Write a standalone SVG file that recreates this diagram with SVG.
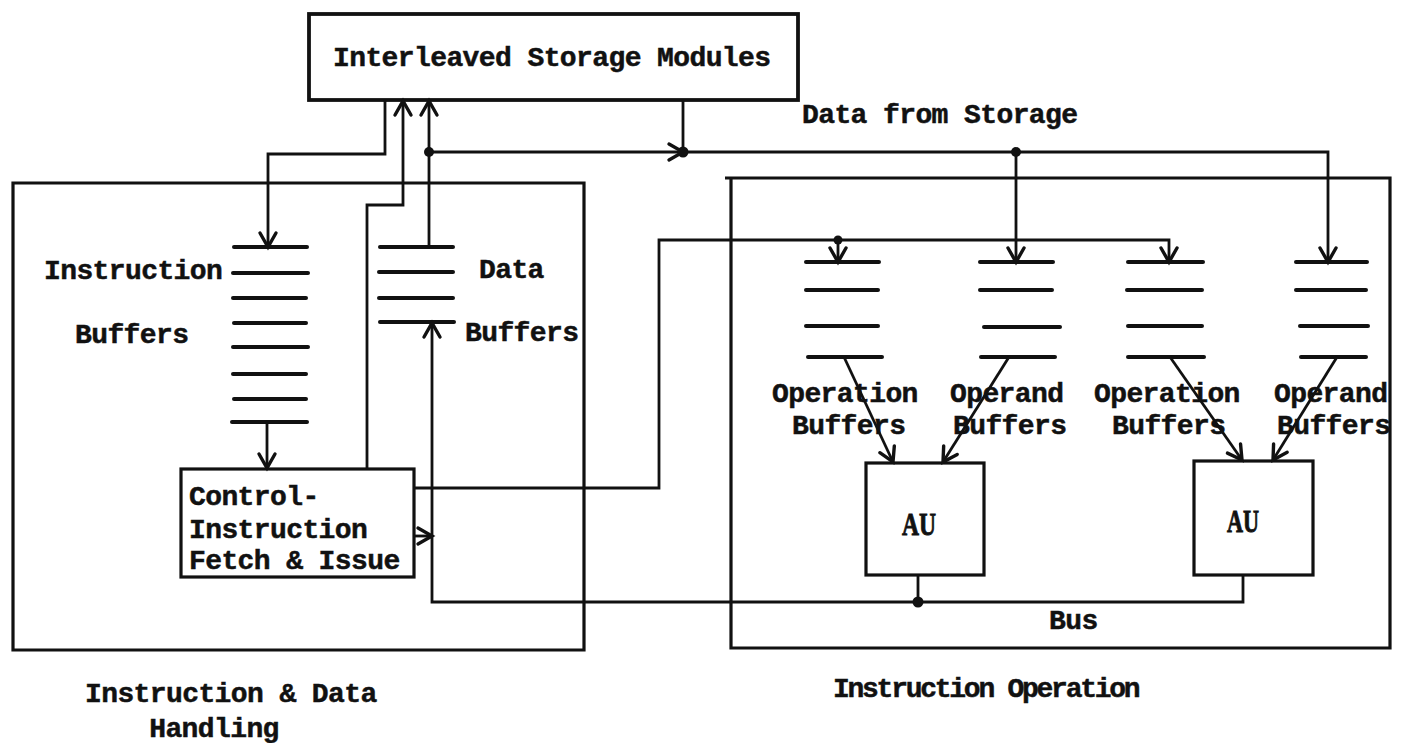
<svg xmlns="http://www.w3.org/2000/svg" width="1403" height="743" viewBox="0 0 1403 743">
  <defs>
    <style>
      .bg { fill: #ffffff; }
      .box { fill: none; stroke: #111; stroke-width: 3.2; stroke-linejoin: miter; }
      .heavy { stroke-width: 3.8; }
      .wire { fill: none; stroke: #111; stroke-width: 2.8; stroke-linejoin: miter; }
      .slot { stroke: #111; stroke-width: 4; stroke-linecap: round; }
      .dot { fill: #111; }
      .lbl { font-family: "Liberation Mono", "Courier New", monospace; font-weight: bold; font-size: 28px; letter-spacing: -0.6px; fill: #111; stroke: #111; stroke-width: 0.5px; }
      .au { font-family: "Liberation Serif", "Times New Roman", serif; font-weight: bold; font-size: 31px; fill: #111; stroke: #111; stroke-width: 0.9px; text-anchor: middle; }
    </style>
    <marker id="arr" viewBox="-16 -10 18 20" refX="0" refY="0" markerWidth="18" markerHeight="20" markerUnits="userSpaceOnUse" orient="auto" overflow="visible">
      <path d="M-14,-8 L0,0 L-14,8" fill="none" stroke="#111" stroke-width="3.4" stroke-linecap="round" stroke-linejoin="miter"/>
    </marker>
  </defs>

  <rect class="bg" x="0" y="0" width="1403" height="743"/>

  <!-- memory -->
  <g id="storage">
    <rect class="box heavy" x="309" y="14" width="489" height="86"/>
    <text class="lbl" x="333" y="66">Interleaved Storage Modules</text>
  </g>

  <!-- left section frame and caption -->
  <g id="instruction-data-handling">
    <path class="box" d="M13,183 H584 V650 H13 Z"/>
    <text class="lbl" x="85" y="702">Instruction &amp; Data</text>
    <text class="lbl" x="214" y="737" text-anchor="middle">Handling</text>
  </g>

  <!-- right section frame and caption -->
  <g id="instruction-operation">
    <path class="box" d="M725,178 H1390 V648 H731 V178"/>
    <text class="lbl" x="833" y="697" textLength="307" lengthAdjust="spacing">Instruction Operation</text>
  </g>

  <g id="instruction-buffers">
    <line class="slot" x1="234" y1="247" x2="307" y2="247"/>
    <line class="slot" x1="233" y1="273" x2="308" y2="273"/>
    <line class="slot" x1="233" y1="298" x2="306" y2="298"/>
    <line class="slot" x1="234" y1="323" x2="306" y2="323"/>
    <line class="slot" x1="233" y1="347" x2="308" y2="347"/>
    <line class="slot" x1="233" y1="374" x2="306" y2="374"/>
    <line class="slot" x1="234" y1="399" x2="306" y2="399"/>
    <line class="slot" x1="232" y1="422" x2="307" y2="422"/>
    <text class="lbl" x="44" y="279">Instruction</text>
    <text class="lbl" x="75" y="343">Buffers</text>
  </g>

  <g id="data-buffers">
    <line class="slot" x1="380" y1="247" x2="453" y2="247"/>
    <line class="slot" x1="379" y1="272" x2="453" y2="272"/>
    <line class="slot" x1="379" y1="298" x2="453" y2="298"/>
    <line class="slot" x1="380" y1="322" x2="454" y2="322"/>
    <text class="lbl" x="479" y="278">Data</text>
    <text class="lbl" x="465" y="341">Buffers</text>
  </g>

  <g id="control">
    <rect class="box" x="181" y="469" width="233" height="108"/>
    <text class="lbl" x="189" y="505">Control-</text>
    <text class="lbl" x="189" y="538">Instruction</text>
    <text class="lbl" x="189" y="569">Fetch &amp; Issue</text>
  </g>

  <g id="operation-buffers-1">
    <line class="slot" x1="806" y1="262" x2="879" y2="262"/>
    <line class="slot" x1="806" y1="290" x2="878" y2="290"/>
    <line class="slot" x1="806" y1="326" x2="878" y2="326"/>
    <line class="slot" x1="808" y1="357" x2="882" y2="357"/>
    <text class="lbl" x="772" y="402">Operation</text>
    <text class="lbl" x="792" y="434">Buffers</text>
  </g>

  <g id="operand-buffers-1">
    <line class="slot" x1="980" y1="262" x2="1053" y2="262"/>
    <line class="slot" x1="980" y1="290" x2="1052" y2="290"/>
    <line class="slot" x1="984" y1="327" x2="1060" y2="327"/>
    <line class="slot" x1="981" y1="357" x2="1055" y2="357"/>
    <text class="lbl" x="950" y="402">Operand</text>
    <text class="lbl" x="953" y="434">Buffers</text>
  </g>

  <g id="operation-buffers-2">
    <line class="slot" x1="1128" y1="262" x2="1203" y2="262"/>
    <line class="slot" x1="1127" y1="290" x2="1202" y2="290"/>
    <line class="slot" x1="1128" y1="326" x2="1202" y2="326"/>
    <line class="slot" x1="1128" y1="357" x2="1204" y2="357"/>
    <text class="lbl" x="1094" y="402">Operation</text>
    <text class="lbl" x="1112" y="434">Buffers</text>
  </g>

  <g id="operand-buffers-2">
    <line class="slot" x1="1296" y1="262" x2="1367" y2="262"/>
    <line class="slot" x1="1296" y1="290" x2="1366" y2="290"/>
    <line class="slot" x1="1300" y1="326" x2="1368" y2="326"/>
    <line class="slot" x1="1301" y1="357" x2="1366" y2="357"/>
    <text class="lbl" x="1274" y="402">Operand</text>
    <text class="lbl" x="1277" y="434">Buffers</text>
  </g>

  <g id="au-1">
    <rect class="box" x="866" y="463" width="118" height="112"/>
    <text class="au" x="919" y="535" textLength="34" lengthAdjust="spacingAndGlyphs">AU</text>
  </g>

  <g id="au-2">
    <rect class="box" x="1194" y="461" width="119" height="114"/>
    <text class="au" x="1243" y="532" textLength="32" lengthAdjust="spacingAndGlyphs">AU</text>
  </g>

  <g id="bus-label">
    <text class="lbl" x="1049" y="629">Bus</text>
  </g>

  <g id="storage-label">
    <text class="lbl" x="802" y="123">Data from Storage</text>
  </g>

  <!-- wiring -->
  <g id="connectors">
    <!-- storage to instruction buffers -->
    <path class="wire" d="M385,100 V154 H268 V247" marker-end="url(#arr)"/>
    <!-- control unit request to storage -->
    <path class="wire" d="M367,469 V205 H403 V101" marker-end="url(#arr)"/>
    <!-- data buffers to storage -->
    <path class="wire" d="M429,247 V101" marker-end="url(#arr)"/>
    <!-- storage data line -->
    <path class="wire" d="M429,152 H683" marker-end="url(#arr)"/>
    <path class="wire" d="M683,100 V152"/>
    <path class="wire" d="M683,152 H1328 V262" marker-end="url(#arr)"/>
    <path class="wire" d="M1016,152 V262" marker-end="url(#arr)"/>
    <!-- control to operation buffers -->
    <path class="wire" d="M414,488 H659 V240 H1169 V262" marker-end="url(#arr)"/>
    <path class="wire" d="M838,240 V262" marker-end="url(#arr)"/>
    <!-- control to bus -->
    <path class="wire" d="M414,536 H432" marker-end="url(#arr)"/>
    <!-- result bus back to data buffers -->
    <path class="wire" d="M1243,575 V602 H432 V323" marker-end="url(#arr)"/>
    <path class="wire" d="M918,575 V602"/>
    <!-- instruction buffers to control -->
    <path class="wire" d="M267,422 V468" marker-end="url(#arr)"/>
    <!-- buffers to arithmetic units -->
    <path class="wire" d="M844,357 L893,462" marker-end="url(#arr)"/>
    <path class="wire" d="M1009,357 L943,462" marker-end="url(#arr)"/>
    <path class="wire" d="M1170,357 L1242,460" marker-end="url(#arr)"/>
    <path class="wire" d="M1337,357 L1273,460" marker-end="url(#arr)"/>
    <!-- junctions -->
    <circle class="dot" cx="429" cy="152" r="5"/>
    <circle class="dot" cx="683" cy="152" r="5.5"/>
    <circle class="dot" cx="1016" cy="152" r="5"/>
    <circle class="dot" cx="838" cy="240" r="4.5"/>
    <circle class="dot" cx="918" cy="602" r="5.5"/>
  </g>
</svg>
